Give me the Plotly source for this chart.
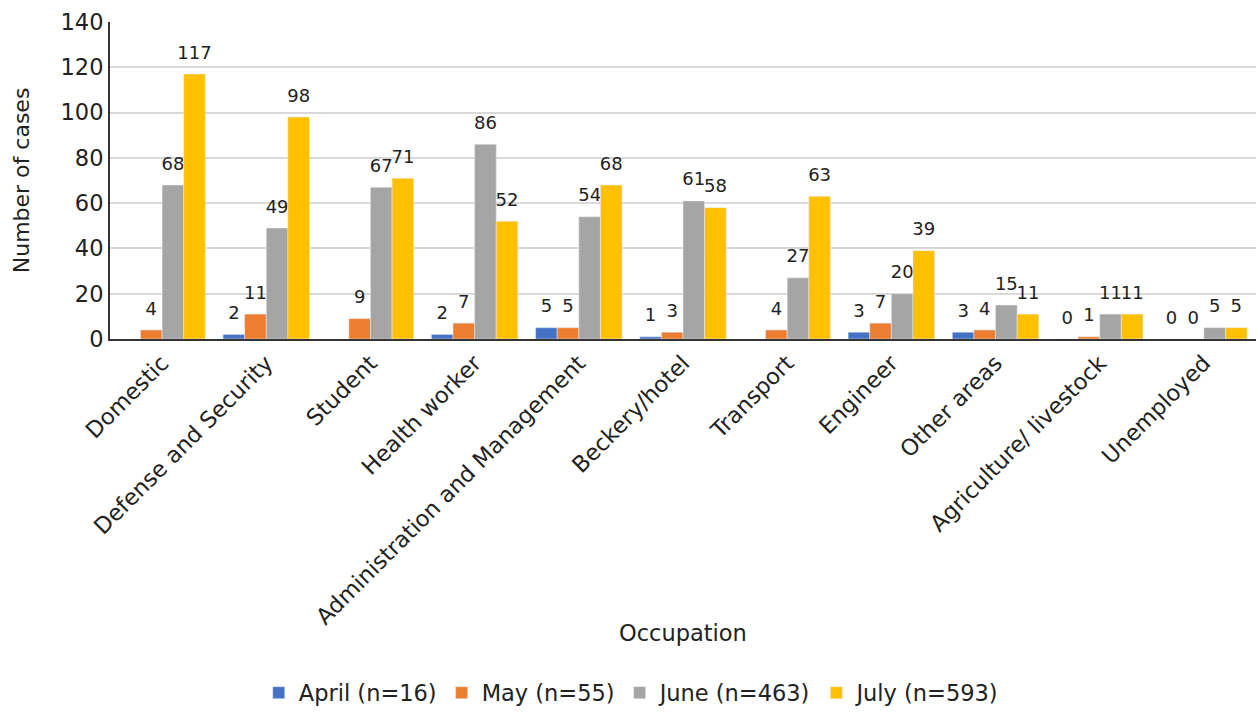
import plotly.graph_objects as go

categories = ["Domestic", "Defense and Security", "Student", "Health worker",
              "Administration and Management", "Beckery/hotel", "Transport",
              "Engineer", "Other areas", "Agriculture/ livestock", "Unemployed"]
april = [None, 2, None, 2, 5, 1, None, 3, 3, 0, 0]
may = [4, 11, 9, 7, 5, 3, 4, 7, 4, 1, 0]
june = [68, 49, 67, 86, 54, 61, 27, 20, 15, 11, 5]
july = [117, 98, 71, 52, 68, 58, 63, 39, 11, 11, 5]
series_names = ["April (n=16)", "May (n=55)", "June (n=463)", "July (n=593)"]
colors = ["#4472C4", "#ED7D31", "#A5A5A5", "#FFC000"]
y_ticks = [0, 20, 40, 60, 80, 100, 120, 140]

FONT = "DejaVu Sans"


def label(v):
    if v is None:
        return ""
    return "<span style='font-size:18px'>" + str(v) + "</span><br> "


fig = go.Figure()
for name, vals, c in zip(series_names, [april, may, june, july], colors):
    fig.add_trace(go.Bar(
        x=categories, y=vals, name=name, marker_color=c,
        text=[label(v) for v in vals],
        textposition="outside", cliponaxis=False, constraintext="none",
        textfont=dict(family=FONT, size=8, color="#222"),
        hovertemplate="%{x}: %{y}<extra>" + name + "</extra>",
    ))

fig.update_layout(
    barmode="group", bargap=0.17, bargroupgap=0,
    width=1256, height=713,
    margin=dict(l=110, r=0, t=22, b=374),
    plot_bgcolor="white", paper_bgcolor="white",
    font=dict(family=FONT, size=22, color="#222"),
    showlegend=True,
    legend=dict(orientation="h", xref="container", yref="container",
                x=0.503, xanchor="center", y=0.028, yanchor="middle",
                font=dict(family=FONT, size=22.5), itemwidth=30, traceorder="normal"),
)
fig.update_xaxes(showline=True, linecolor="#333", linewidth=2, tickangle=-45,
                 ticks="", tickfont=dict(family=FONT, size=22.5), showgrid=False)
fig.update_yaxes(range=[0, 140], tickvals=y_ticks, showgrid=True, gridcolor="#D9D9D9",
                 gridwidth=1.5, showline=True, linecolor="#333", linewidth=2,
                 ticks="", tickfont=dict(family=FONT, size=22.5), zeroline=False)
fig.add_annotation(text="Number of cases", xref="paper", yref="paper", x=-0.077, y=0.5,
                   textangle=-90, showarrow=False, font=dict(family=FONT, size=22),
                   xanchor="center", yanchor="middle")
fig.add_annotation(text="Occupation", xref="paper", yref="paper", x=0.5, y=-0.927,
                   showarrow=False, font=dict(family=FONT, size=22.5),
                   xanchor="center", yanchor="middle")
fig.write_html("out.html")
